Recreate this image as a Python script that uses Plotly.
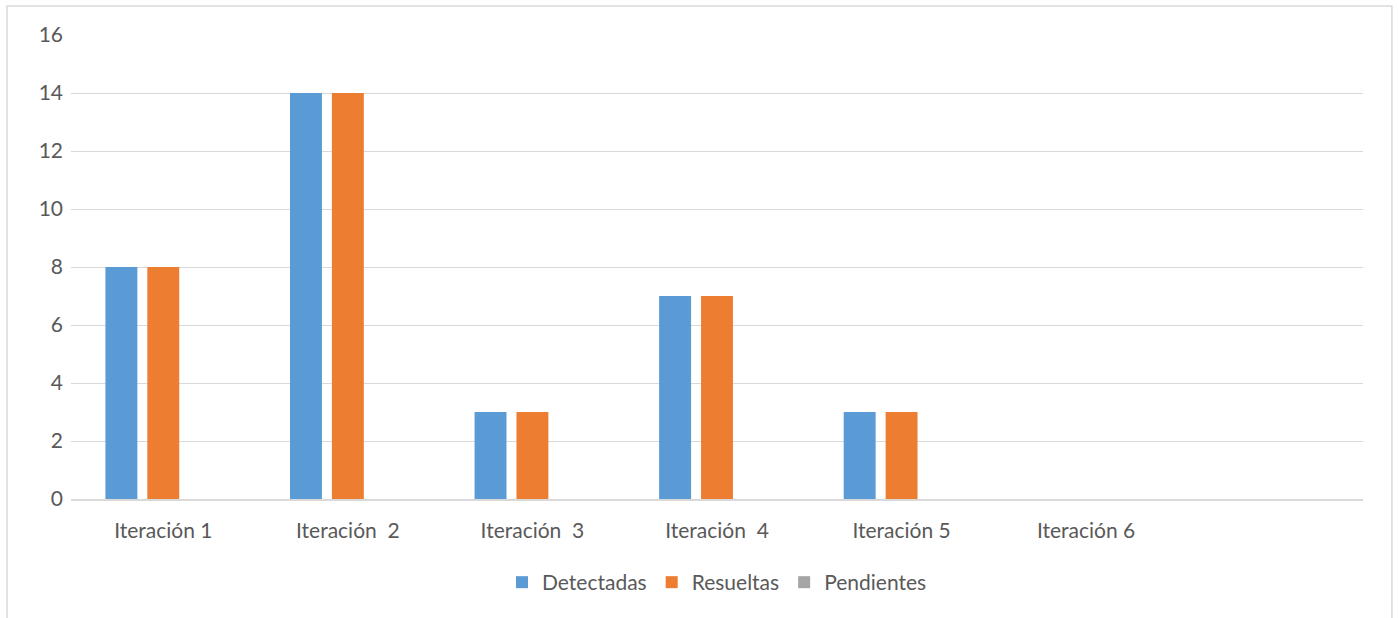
import plotly.graph_objects as go

categories = ["Iteración 1", "Iteración\u00a0 2", "Iteración\u00a0 3", "Iteración\u00a0 4", "Iteración 5", "Iteración 6", "\u00a0"]
detectadas = [8, 14, 3, 7, 3, 0, None]
resueltas = [8, 14, 3, 7, 3, 0, None]
pendientes = [0, 0, 0, 0, 0, 0, None]

font_family = "Lato, 'Open Sans', sans-serif"
text_color = "#595959"

fig = go.Figure()
fig.add_trace(go.Bar(name="Detectadas", x=categories, y=detectadas, marker_color="#5B9BD5", marker_line_width=0))
fig.add_trace(go.Bar(name="Resueltas", x=categories, y=resueltas, marker_color="#ED7D31", marker_line_width=0))
fig.add_trace(go.Bar(name="Pendientes", x=categories, y=pendientes, marker_color="#A5A5A5", marker_line_width=0))

fig.update_layout(
    width=1398, height=618,
    margin=dict(l=71, r=35, t=35, b=119),
    paper_bgcolor="white", plot_bgcolor="white",
    barmode="group", bargap=0.319, bargroupgap=0.238,
    font=dict(family=font_family, size=21, color=text_color),
    legend=dict(orientation="h", x=0.5, xanchor="center", y=-0.18, yanchor="middle",
                font=dict(size=21, color=text_color), itemwidth=30, traceorder="normal"),
    xaxis=dict(type="category", categoryorder="array", categoryarray=categories,
               range=[-0.5, 6.5], showgrid=False, showline=True, linecolor="#D9D9D9",
               linewidth=1.5, ticks="", ticklabelstandoff=12, tickfont=dict(size=21)),
    yaxis=dict(range=[0, 16], dtick=2, showgrid=True, gridcolor="#D9D9D9", gridwidth=1,
               zeroline=False, showline=False, ticks="", ticklabelstandoff=7,
               tickfont=dict(size=21)),
    shapes=[dict(type="rect", xref="paper", yref="paper",
                 x0=-0.0495, x1=1.0224, y0=-0.3, y1=1.0625,
                 line=dict(color="#D9D9D9", width=1.5), fillcolor="rgba(0,0,0,0)", layer="below")],
)

fig.write_html("out.html")
